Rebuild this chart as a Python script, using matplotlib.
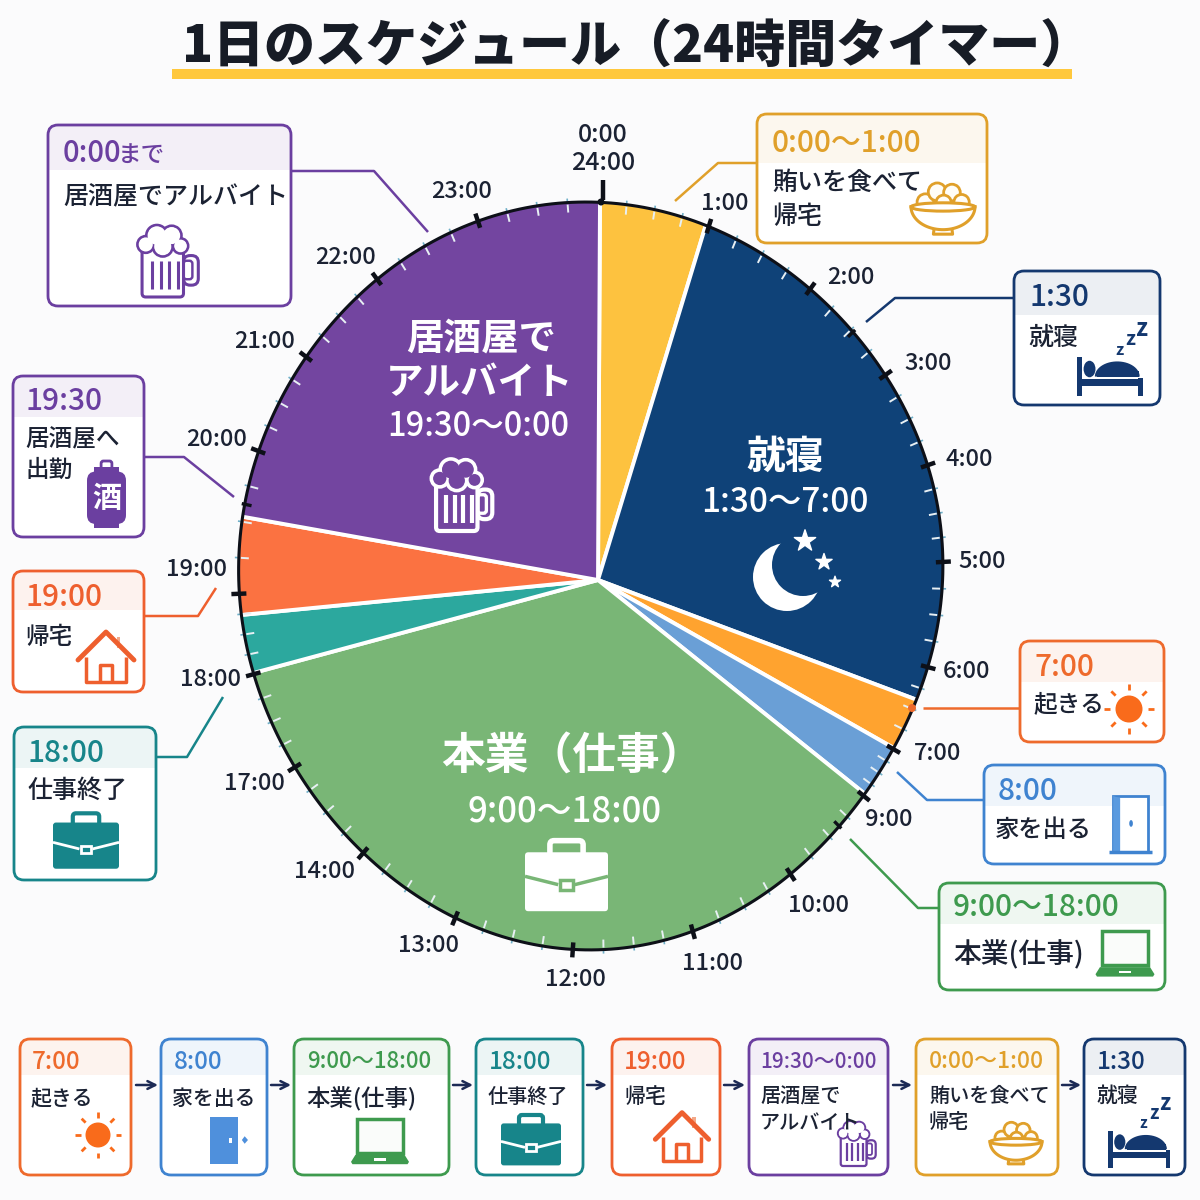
import numpy as np
import matplotlib
matplotlib.use("Agg")
import matplotlib.pyplot as plt
from matplotlib.patches import Circle, Ellipse, FancyBboxPatch, Polygon, Rectangle

plt.rcParams['font.family'] = ['Noto Sans CJK JP', 'DejaVu Sans']

# data
slice_names = ["賄い", "就寝", "起きる", "家を出る", "本業", "仕事終了", "帰宅", "居酒屋"]
slice_spans = [16.6, 93.7, 9.0, 9.1, 126.2, 9.5, 15.7, 80.2]
slice_colors = ["#FDC23F", "#0F4278", "#FFA32F", "#6A9FD6", "#79B676", "#2CA89E", "#FB7241", "#7345A0"]

hour_labels = ["1:00", "2:00", "3:00", "4:00", "5:00", "6:00", "7:00", "9:00", "10:00", "11:00", "12:00",
               "13:00", "14:00", "17:00", "18:00", "19:00", "20:00", "21:00", "22:00", "23:00"]
hour_angles = [17.4, 36.1, 54.5, 70.8, 87.0, 104.8, 119.8, 129.1, 146.8, 164.9, 183.9,
               202.9, 220.7, 238.3, 254.7, 267.8, 290.8, 307.4, 323.7, 341.5]
hour_radii = [368.8, 361.4, 352.7, 347.2, 347.5, 340.3, 340.0, 341.3, 352.5, 363.6, 369.8,
              367.0, 360.2, 356.0, 356.6, 359.3, 362.7, 367.4, 373.4, 377.6]
top_radius = 379.0
event_angles = [45.8, 135.6, 282.1]

# layout, in pixels
hour_label_xy = [(725, 202), (851, 276), (928, 361), (969, 457), (982, 559), (967, 669), (938, 751), (889, 817),
                 (819, 904), (712, 961), (575, 977), (428, 944), (325, 870), (254, 781), (210, 678), (196, 567),
                 (217, 437), (265, 340), (346, 256), (462, 190)]
apex = (598, 580)
TEXT_DY = 4

INK = "#1B2233"
TICK = "#0D1018"
ORANGE = "#EE6A2C"
BLUE = "#3F83D0"
GREEN = "#3E9A4E"
TEAL = "#17858A"
CORAL = "#EE5F2E"
PURPLE = "#6B3FA0"
YELLOW = "#E0A02A"
NAVY = "#14386F"
BG = "#FBFBFC"

fig = plt.figure(figsize=(12, 12), dpi=100, facecolor=BG)
ax = fig.add_axes([0, 0, 1, 1])
ax.set_xlim(0, 1200)
ax.set_ylim(1200, 0)


def basis(deg):
    t = np.radians(np.asarray(deg, dtype=float))
    cols = [np.ones_like(t)]
    for k in (1, 2, 3, 4):
        cols += [np.cos(k * t), np.sin(k * t)]
    return np.stack(cols, axis=-1)


# the rim is not a true circle, smooth it through the radii read at the hour ticks
rim_coef = np.linalg.lstsq(basis([0.0] + hour_angles), np.array([top_radius] + hour_radii), rcond=None)[0]


def rim(deg):
    t = np.radians(deg)
    return basis(deg) @ rim_coef, np.sin(t), -np.cos(t)


def seg(xs, ys, col, lw=2, z=6, **kw):
    ax.plot(xs, ys, color=col, lw=lw, zorder=z, solid_capstyle=kw.pop('cap', 'butt'), **kw)


def label(x, y, txt, col=INK, size=17, weight='medium', ha='left', z=6):
    ax.text(x, y + TEXT_DY, txt, color=col, fontsize=size, fontweight=weight, ha=ha, va='center', zorder=z)


def rbox(x0, y0, x1, y1, rad, fc, ec='none', lw=0, z=5):
    p = FancyBboxPatch((x0 + rad, y0 + rad), x1 - x0 - 2 * rad, y1 - y0 - 2 * rad,
                       boxstyle=f"round,pad={rad},rounding_size={rad}", fc=fc, ec=ec, lw=lw, zorder=z)
    ax.add_patch(p)
    return p


def sun(cx, cy, s, col):
    ax.add_patch(Circle((cx, cy), s, fc=col, ec='none', zorder=5))
    for a in np.arange(0, 360, 45):
        t = np.radians(a)
        seg([cx + 1.4 * s * np.cos(t), cx + 1.85 * s * np.cos(t)],
            [cy + 1.4 * s * np.sin(t), cy + 1.85 * s * np.sin(t)], col, lw=2)


def door_open(cx, cy, s, col):
    # outlined door with a filled jamb
    ax.add_patch(Rectangle((cx - 0.62 * s, cy - s), 1.24 * s, 2 * s, fc='white', ec=col, lw=2, zorder=5))
    ax.add_patch(Polygon([(cx - 0.62 * s, cy - s), (cx - 0.37 * s, cy - 0.92 * s),
                          (cx - 0.37 * s, cy + s), (cx - 0.62 * s, cy + s)], fc="#5A9ADF", ec='none', zorder=5))
    seg([cx - 0.78 * s, cx + 0.78 * s], [cy + s, cy + s], col, lw=2.5)
    ax.add_patch(Ellipse((cx + 0.02 * s, cy - 0.02 * s), 0.13 * s, 0.24 * s, fc=col, zorder=6))


def door_closed(cx, cy, s, col):
    ax.add_patch(Rectangle((cx - 0.58 * s, cy - s), 1.16 * s, 2 * s, fc=col, ec='none', zorder=5))
    ax.add_patch(Rectangle((cx + 0.2 * s, cy - 0.08 * s), 0.16 * s, 0.2 * s, fc='white', zorder=6))
    ax.add_patch(Polygon([(cx + 0.88 * s, cy - 0.16 * s), (cx + 1.02 * s, cy), (cx + 0.88 * s, cy + 0.16 * s),
                          (cx + 0.76 * s, cy)], fc=col, zorder=6))


def laptop(cx, cy, s, col):
    ax.add_patch(Rectangle((cx - 0.78 * s, cy - 0.75 * s), 1.56 * s, 1.15 * s, fc='#FAFCFA', ec=col, lw=2.5, zorder=5))
    ax.add_patch(Polygon([(cx - 0.85 * s, cy + 0.48 * s), (cx + 0.85 * s, cy + 0.48 * s), (cx + 1.0 * s, cy + 0.72 * s),
                          (cx + 0.95 * s, cy + 0.8 * s), (cx - 0.95 * s, cy + 0.8 * s), (cx - 1.0 * s, cy + 0.72 * s)],
                         fc=col, ec='none', zorder=5))
    ax.add_patch(Rectangle((cx - 0.2 * s, cy + 0.6 * s), 0.4 * s, 0.08 * s, fc='white', zorder=6))


def briefcase(cx, cy, s, col, line='white'):
    rbox(cx - s, cy - 0.62 * s, cx + s, cy + 0.78 * s, 0.09 * s, col)
    rbox(cx - 0.4 * s, cy - 0.9 * s, cx + 0.4 * s, cy - 0.4 * s, 0.1 * s, 'none', col, 3.0, z=4)
    seg([cx - s, cx - 0.2 * s], [cy - 0.02 * s, cy + 0.18 * s], line, lw=2)
    seg([cx + 0.2 * s, cx + s], [cy + 0.18 * s, cy - 0.02 * s], line, lw=2)
    ax.add_patch(Rectangle((cx - 0.16 * s, cy + 0.08 * s), 0.32 * s, 0.22 * s, fc=col, ec=line, lw=2, zorder=7))


def white_briefcase(cx, cy, s, bg):
    rbox(cx - s, cy - 0.62 * s, cx + s, cy + 0.8 * s, 0.08 * s, 'white')
    rbox(cx - 0.4 * s, cy - 0.9 * s, cx + 0.4 * s, cy - 0.4 * s, 0.1 * s, 'none', 'white', 4, z=4)
    seg([cx - s, cx - 0.2 * s], [cy - 0.04 * s, cy + 0.16 * s], bg, lw=2.5)
    seg([cx + 0.2 * s, cx + s], [cy + 0.16 * s, cy - 0.04 * s], bg, lw=2.5)
    ax.add_patch(Rectangle((cx - 0.16 * s, cy + 0.05 * s), 0.32 * s, 0.24 * s, fc='white', ec=bg, lw=2.5, zorder=7))


def house(cx, cy, s, col):
    ax.add_patch(Rectangle((cx + 0.38 * s, cy - 0.78 * s), 0.13 * s, 0.4 * s, fc="#F3A888", ec='none', zorder=4))
    seg([cx - 0.72 * s, cx - 0.72 * s, cx + 0.72 * s, cx + 0.72 * s], [cy - 0.05 * s, cy + 0.85 * s, cy + 0.85 * s, cy - 0.05 * s], col, lw=2.5)
    seg([cx - s, cx, cx + s], [cy + 0.05 * s, cy - 0.95 * s, cy + 0.05 * s], col, lw=3.5, cap='round')
    seg([cx - 0.22 * s, cx - 0.22 * s, cx + 0.22 * s, cx + 0.22 * s], [cy + 0.85 * s, cy + 0.22 * s, cy + 0.22 * s, cy + 0.85 * s], col, lw=2.5)


def beer(cx, cy, s, col, fill='white', lw=2.2):
    rbox(cx - 0.62 * s, cy - 0.35 * s, cx + 0.5 * s, cy + s, 0.1 * s, fill, col, lw)
    rbox(cx + 0.5 * s, cy - 0.12 * s, cx + 0.9 * s, cy + 0.68 * s, 0.18 * s, 'none', col, lw, z=4)
    rbox(cx + 0.5 * s, cy + 0.02 * s, cx + 0.74 * s, cy + 0.52 * s, 0.08 * s, 'none', col, lw * 0.8, z=4)
    for f in (-0.36, -0.12, 0.12, 0.34):
        seg([cx + f * s, cx + f * s], [cy + 0.02 * s, cy + 0.78 * s], col, lw=lw)
    foam = [(-0.52, -0.42, 0.22), (-0.22, -0.66, 0.28), (0.18, -0.66, 0.26), (0.42, -0.38, 0.2), (-0.06, -0.36, 0.26)]
    for fx, fy, fr in foam:
        ax.add_patch(Circle((cx + fx * s, cy + fy * s), fr * s, fc=fill, ec=col, lw=lw, zorder=7))
    for fx, fy, fr in foam:
        ax.add_patch(Circle((cx + fx * s, cy + fy * s), fr * s - lw * 0.5, fc=fill, ec='none', zorder=7.5))


def bowl(cx, cy, s, col):
    t = np.linspace(0, np.pi, 40)
    ax.add_patch(Polygon(np.c_[cx + s * np.cos(t), cy + 0.02 * s + 0.72 * s * np.sin(t)], fc='white', ec=col, lw=2.2, zorder=5))
    seg([cx - 0.28 * s, cx - 0.3 * s, cx + 0.3 * s, cx + 0.28 * s], [cy + 0.72 * s, cy + 0.88 * s, cy + 0.88 * s, cy + 0.72 * s], col, lw=2.2)
    for fx, fy, fr in [(-0.55, -0.12, 0.26), (-0.18, -0.44, 0.28), (0.28, -0.42, 0.26), (0.58, -0.12, 0.24), (0.02, -0.1, 0.24)]:
        ax.add_patch(Circle((cx + fx * s, cy + fy * s), fr * s, fc='#FFFDF7', ec=col, lw=2, zorder=4))
    ax.add_patch(Ellipse((cx, cy + 0.03 * s), 2.0 * s, 0.26 * s, fc='white', ec=col, lw=2.2, zorder=6))


def bed(cx, cy, s, col):
    ax.add_patch(Rectangle((cx - s, cy - 0.38 * s), 0.16 * s, 1.18 * s, fc=col, zorder=5))
    ax.add_patch(Rectangle((cx - s, cy + 0.28 * s), 2.0 * s, 0.2 * s, fc=col, zorder=5))
    ax.add_patch(Rectangle((cx + 0.86 * s, cy + 0.24 * s), 0.14 * s, 0.56 * s, fc=col, zorder=5))
    ax.add_patch(Ellipse((cx - 0.62 * s, cy - 0.03 * s), 0.36 * s, 0.5 * s, fc=col, zorder=5))
    t = np.linspace(np.pi, 2 * np.pi, 30)
    ax.add_patch(Polygon(np.c_[cx + 0.22 * s + 0.68 * s * np.cos(t), cy + 0.2 * s + 0.46 * s * np.sin(t)], fc=col, zorder=5))
    ax.add_patch(Rectangle((cx - 0.38 * s, cy + 0.04 * s), 1.25 * s, 0.18 * s, fc=col, zorder=5))


def zzz(x, y, col, base):
    for i, size in enumerate((0.72, 0.88, 1.05)):
        ax.text(x + i * base * 0.72, y - i * base * 0.66, "z", color=col, fontsize=base * size, fontweight='bold',
                ha='center', va='center', zorder=6)


def lantern(cx, cy, s, col):
    ax.add_patch(Rectangle((cx - 0.42 * s, cy - 1.0 * s), 0.84 * s, 0.2 * s, fc=col, zorder=5))
    ax.add_patch(Rectangle((cx - 0.42 * s, cy + 0.86 * s), 0.84 * s, 0.18 * s, fc=col, zorder=5))
    rbox(cx - 0.18 * s, cy - 1.2 * s, cx + 0.18 * s, cy - 0.9 * s, 0.08 * s, 'none', col, 2, z=5)
    rbox(cx - 0.65 * s, cy - 0.85 * s, cx + 0.65 * s, cy + 0.9 * s, 0.3 * s, col, z=5)
    ax.text(cx, cy + 0.02 * s, "酒", color='white', fontsize=s * 0.7, fontweight='bold', ha='center', va='center', zorder=7)


def card(x0, y0, x1, y1, col, head, when, tx, ty, tsize, lines, bsize, rad=10):
    box = rbox(x0, y0, x1, y1, rad, 'white', col, 2, z=3)
    band = Rectangle((x0, y0), x1 - x0, head - y0, fc=col, alpha=0.08, ec='none', zorder=3.5)
    ax.add_patch(band)
    band.set_clip_path(box)
    label(tx, ty, when, col, tsize)
    for txt, x, y in lines:
        label(x, y, txt, INK, bsize, z=8)


# wedges, cut to the rim below
wedges, _ = ax.pie(slice_spans, startangle=-89.7, counterclock=True, center=apex, radius=470, colors=slice_colors,
                   frame=True, wedgeprops=dict(edgecolor='white', linewidth=2.8))
rim_t = np.linspace(0, 360, 361)
rim_r, rim_dx, rim_dy = rim(rim_t)
outline = Polygon(np.c_[apex[0] + rim_r * rim_dx, apex[1] + rim_r * rim_dy], closed=True, fc='none', ec=TICK, lw=2.2, zorder=4)
ax.add_patch(outline)
for w in wedges:
    w.set_clip_on(True)
    w.set_clip_path(outline)
    w.set_zorder(2)
ax.set_xlim(0, 1200)
ax.set_ylim(1200, 0)
ax.set_aspect('auto')
ax.axis('off')

# clock ticks
for a in hour_angles:
    r, dx, dy = rim(a)
    seg([apex[0] + dx * (r - 7), apex[0] + dx * (r + 8)], [apex[1] + dy * (r - 7), apex[1] + dy * (r + 8)], TICK, lw=3.2, z=4.5)
for a in event_angles:
    r, dx, dy = rim(a)
    seg([apex[0] + dx * (r - 7), apex[0] + dx * (r + 3)], [apex[1] + dy * (r - 7), apex[1] + dy * (r + 3)], TICK, lw=2.4, z=4.5)
seg([603, 603], [200, 180], TICK, lw=3.2, z=4.5)
ax.add_patch(Circle((601, 202), 3.5, fc=TICK, zorder=4.6))
full = [0.0] + hour_angles + [360.0]
for a0, a1 in zip(full[:-1], full[1:]):
    for f in (0.25, 0.5, 0.75):
        a = a0 + (a1 - a0) * f
        r, dx, dy = rim(a)
        seg([apex[0] + dx * (r - 10), apex[0] + dx * (r - 2)], [apex[1] + dy * (r - 10), apex[1] + dy * (r - 2)], "#E8F0F4", lw=1.4, z=3)
        seg([apex[0] + dx * (r + 1), apex[0] + dx * (r + 4)], [apex[1] + dy * (r + 1), apex[1] + dy * (r + 4)], "#6FAFC8", lw=1.2, z=3)

for lab, (x, y) in zip(hour_labels, hour_label_xy):
    label(x, y - 2, lab, INK, 17, ha='center')
label(603, 131, "0:00", INK, 18, ha='center')
label(603, 159, "24:00", INK, 18, ha='center')

# title
ax.text(637, 48, "1日のスケジュール（24時間タイマー）", color="#171C26", fontsize=36.7, fontweight='black', ha='center', va='center', zorder=6)
ax.add_patch(Rectangle((172, 69), 900, 10, fc="#FFC83D", ec='none', zorder=5))

# text inside the wedges
label(481, 334, "居酒屋で", 'white', 27, 'bold', 'center')
label(480, 378, "アルバイト", 'white', 27, 'bold', 'center')
label(478, 422, "19:30～0:00", 'white', 23.5, 'medium', 'center')
beer(459, 494, 37, 'white', fill="#7345A0", lw=3)
label(785, 453, "就寝", 'white', 28, 'bold', 'center')
label(785, 498, "1:30～7:00", 'white', 24, 'medium', 'center')
ax.add_patch(Circle((787, 577), 34, fc='white', zorder=5))
ax.add_patch(Circle((803, 565), 31, fc="#0F4278", zorder=5.1))
ax.scatter([805, 824, 835], [541, 562, 582], marker='*', s=[260, 150, 70], color='white', zorder=6)
label(572, 753, "本業（仕事）", 'white', 31.5, 'bold', 'center')
label(565, 807, "9:00～18:00", 'white', 25, 'medium', 'center')
white_briefcase(566.5, 878, 41.5, "#79B676")

# callouts around the clock
card(48, 125, 291, 306, PURPLE, 170, "0:00", 63, 149, 21, [("居酒屋でアルバイト", 63, 193)], 18)
label(118, 151, "まで", PURPLE, 17)
beer(165, 260, 37, PURPLE)
card(757, 114, 987, 243, YELLOW, 163, "0:00～1:00", 772, 139, 21.5, [("賄いを食べて", 772, 179), ("帰宅", 772, 213)], 18)
bowl(943, 206, 32, YELLOW)
card(1014, 271, 1160, 405, NAVY, 315, "1:30", 1029, 294, 21.5, [("就寝", 1028, 334)], 18)
bed(1110, 370, 33, NAVY)
zzz(1119, 350, NAVY, 16)
card(1020, 641, 1164, 742, ORANGE, 682, "7:00", 1035, 663, 21.5, [("起きる", 1033, 701)], 17)
sun(1129, 709, 13.5, "#F96B1B")
card(984, 765, 1165, 864, BLUE, 806, "8:00", 998, 787, 21.5, [("家を出る", 995, 826)], 17.5)
door_open(1130.5, 824, 28, BLUE)
card(939, 883, 1165, 990, GREEN, 924, "9:00～18:00", 953, 904, 21.5, [("本業(仕事)", 953, 951)], 20)
laptop(1125, 953, 29.5, GREEN)
card(13, 376, 144, 537, PURPLE, 417, "19:30", 26, 398, 21.5, [("居酒屋へ", 25, 436), ("出勤", 25, 466)], 17)
lantern(106.5, 497, 30, PURPLE)
card(13, 571, 144, 692, CORAL, 610, "19:00", 26, 593, 21.5, [("帰宅", 25, 634)], 17)
house(106, 658.6, 28, CORAL)
card(14, 727, 156, 880, TEAL, 768, "18:00", 27, 749, 21.5, [("仕事終了", 27, 787)], 18)
briefcase(86, 843, 33, TEAL)

# leader lines
leaders = [(YELLOW, [675, 718, 757], [201, 163, 163]), (NAVY, [866, 895, 1014], [322, 298, 298]),
           (ORANGE, [923, 1020], [708, 708]), (BLUE, [897, 927, 984], [772, 800, 800]),
           (GREEN, [850, 918, 939], [839, 908, 908]), (PURPLE, [234, 184, 144], [497, 457, 457]),
           (CORAL, [216, 198, 144], [588, 616, 616]), (TEAL, [223, 187, 156], [697, 757, 757]),
           (PURPLE, [428, 374, 291], [232, 171, 171])]
for col, xs, ys in leaders:
    seg(xs, ys, col, lw=1.8, z=3)
ax.add_patch(Circle((912, 708), 4, fc=ORANGE, zorder=6))

# timeline along the bottom
y0, y1, hd = 1039, 1175, 1075
card(20, y0, 131, y1, ORANGE, hd, "7:00", 32, 1058, 17.5, [("起きる", 31, 1095)], 15)
sun(98, 1135, 12.5, "#F96B1B")
card(161, y0, 267, y1, BLUE, hd, "8:00", 174, 1058, 17.5, [("家を出る", 172, 1095)], 15)
door_closed(224, 1140, 23.5, "#4F90DC")
card(294, y0, 449, y1, GREEN, hd, "9:00～18:00", 307, 1058, 16, [("本業(仕事)", 306, 1095)], 16.8)
laptop(380, 1141, 29, GREEN)
card(476, y0, 583, y1, TEAL, hd, "18:00", 489, 1058, 17.5, [("仕事終了", 488, 1093)], 14.5)
briefcase(531, 1142, 30, TEAL)
card(612, y0, 720, y1, CORAL, hd, "19:00", 624, 1058, 17.5, [("帰宅", 624, 1093)], 15)
house(682, 1138, 26.7, CORAL)
card(749, y0, 888, y1, PURPLE, hd, "19:30～0:00", 760, 1058, 15, [("居酒屋で", 760, 1093), ("アルバイト", 760, 1120)], 14.5)
beer(855, 1143, 23, PURPLE, lw=1.6)
card(916, y0, 1058, y1, YELLOW, hd, "0:00～1:00", 929, 1058, 16.5, [("賄いを食べて", 929, 1092), ("帰宅", 929, 1119)], 14.5)
bowl(1016, 1141, 26, YELLOW)
card(1084, y0, 1185, y1, NAVY, hd, "1:30", 1097, 1058, 17.5, [("就寝", 1096, 1092)], 15)
bed(1139, 1143, 31, NAVY)
zzz(1143, 1123, NAVY, 15)

for xa, xb in [(136, 158), (271, 291), (453, 473), (587, 607), (724, 745), (893, 912), (1062, 1081)]:
    ax.annotate("", xy=(xb, 1085), xytext=(xa, 1085), zorder=6,
                arrowprops=dict(arrowstyle='->', color="#1C2A55", lw=1.8, mutation_scale=14, shrinkA=0, shrinkB=0))

fig.savefig("out.png", dpi=100, facecolor=BG)
